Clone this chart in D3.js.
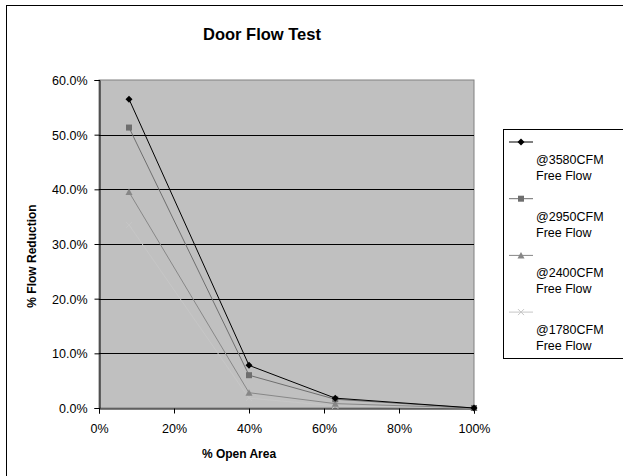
<!DOCTYPE html>
<html>
<head>
<meta charset="utf-8">
<script src="https://cdn.jsdelivr.net/npm/d3@7"></script>
<style>
  body { margin: 0; background: #fff; }
  svg { display: block; font-family: "Liberation Sans", Arial, sans-serif; }
</style>
</head>
<body>
<svg id="chart" width="623" height="476"></svg>
<script>
// data
var openArea = [8, 40, 63, 100];
var flow3580 = [56.5, 7.8, 1.8, 0];
var flow2950 = [51.3, 6.0, 1.6, 0];
var flow2400 = [39.5, 2.8, 0.8, 0];
var flow1780 = [33.5, 1.8, 0.4, 0];
var seriesNames = ["@3580CFM", "@2950CFM", "@2400CFM", "@1780CFM"];
var xTicks = [0, 20, 40, 60, 80, 100];
var yTicks = [0, 10, 20, 30, 40, 50, 60];

var series = [
    { name: seriesNames[0], values: flow3580, color: "#000000", marker: "diamond" },
    { name: seriesNames[1], values: flow2950, color: "#6e6e6e", marker: "square" },
    { name: seriesNames[2], values: flow2400, color: "#878787", marker: "triangle" },
    { name: seriesNames[3], values: flow1780, color: "#c6c6c6", marker: "cross" }
];

var svg = d3.select("#chart");
var plot = { left: 99, top: 80, right: 474, bottom: 408 };

var x = d3.scaleLinear().domain([0, 100]).range([plot.left, plot.right]);
var y = d3.scaleLinear().domain([0, 60]).range([plot.bottom, plot.top]);

// outer frame
svg.append("rect")
    .attr("x", 6.5).attr("y", 5.5)
    .attr("width", 630).attr("height", 480)
    .attr("fill", "#fff").attr("stroke", "#000").attr("stroke-width", 1);

svg.append("text")
    .attr("x", 262).attr("y", 40)
    .attr("text-anchor", "middle")
    .attr("font-size", 16.5).attr("font-weight", "bold")
    .text("Door Flow Test");

// plot area
svg.append("rect")
    .attr("x", plot.left).attr("y", plot.top)
    .attr("width", plot.right - plot.left).attr("height", plot.bottom - plot.top)
    .attr("fill", "#c0c0c0").attr("stroke", "#808080").attr("stroke-width", 1);

svg.append("g").selectAll("line")
    .data(yTicks.slice(1, -1))
    .enter().append("line")
    .attr("x1", plot.left).attr("x2", plot.right)
    .attr("y1", function(d) { return Math.round(y(d)) + 0.5; })
    .attr("y2", function(d) { return Math.round(y(d)) + 0.5; })
    .attr("stroke", "#000");

var fmtY = function(d) { return d.toFixed(1) + "%"; };
var fmtX = function(d) { return d + "%"; };

var yAxis = svg.append("g")
    .attr("transform", "translate(" + (plot.left + 0.5) + ",0)")
    .call(d3.axisLeft(y).tickValues(yTicks).tickFormat(fmtY).tickSize(5).tickPadding(7));
var xAxis = svg.append("g")
    .attr("transform", "translate(0," + (plot.bottom + 0.5) + ")")
    .call(d3.axisBottom(x).tickValues(xTicks).tickFormat(fmtX).tickSize(5).tickPadding(11));

[xAxis, yAxis].forEach(function(a) {
    a.selectAll("path, line").attr("stroke", "#000");
    a.selectAll("text").attr("font-size", 12.5).attr("fill", "#000")
        .attr("font-family", "Liberation Sans, Arial, sans-serif");
});
yAxis.selectAll("text").attr("dy", "0.35em");

svg.append("text")
    .attr("transform", "translate(36,256) rotate(-90)")
    .attr("text-anchor", "middle")
    .attr("font-size", 12).attr("font-weight", "bold")
    .text("% Flow Reduction");

svg.append("text")
    .attr("x", 239).attr("y", 458)
    .attr("text-anchor", "middle")
    .attr("font-size", 12).attr("font-weight", "bold")
    .text("% Open Area");

function drawMarker(g, type, color) {
    if (type === "diamond") {
        g.append("path").attr("d", "M0,-3.5L3.5,0L0,3.5L-3.5,0Z").attr("fill", color);
    } else if (type === "square") {
        g.append("rect").attr("x", -3).attr("y", -3).attr("width", 6).attr("height", 6).attr("fill", color);
    } else if (type === "triangle") {
        g.append("path").attr("d", "M0,-3.5L3.5,3L-3.5,3Z").attr("fill", color);
    } else {
        g.append("path").attr("d", "M-3,-3L3,3M-3,3L3,-3").attr("stroke", color).attr("stroke-width", 1);
    }
}

var line = d3.line()
    .x(function(d) { return x(d[0]); })
    .y(function(d) { return y(d[1]); });

series.slice().reverse().forEach(function(s) {
    var pts = openArea.map(function(a, i) { return [a, s.values[i]]; });
    svg.append("path")
        .attr("d", line(pts))
        .attr("fill", "none")
        .attr("stroke", s.color)
        .attr("stroke-width", 1);
    pts.forEach(function(p) {
        var g = svg.append("g").attr("transform", "translate(" + x(p[0]) + "," + y(p[1]) + ")");
        drawMarker(g, s.marker, s.color);
    });
});

// legend
var legend = svg.append("g");
legend.append("rect")
    .attr("x", 503.5).attr("y", 129.5)
    .attr("width", 130).attr("height", 229)
    .attr("fill", "#fff").attr("stroke", "#000");

series.forEach(function(s, i) {
    var ly = 142 + i * 56.7;
    legend.append("line")
        .attr("x1", 509).attr("x2", 533)
        .attr("y1", ly).attr("y2", ly)
        .attr("stroke", s.color);
    drawMarker(legend.append("g").attr("transform", "translate(521," + ly + ")"), s.marker, s.color);
    legend.append("text")
        .attr("x", 536).attr("y", ly + 22)
        .attr("font-size", 12.5)
        .text(s.name);
    legend.append("text")
        .attr("x", 536).attr("y", ly + 38)
        .attr("font-size", 12.5)
        .text("Free Flow");
});
</script>
</body>
</html>
